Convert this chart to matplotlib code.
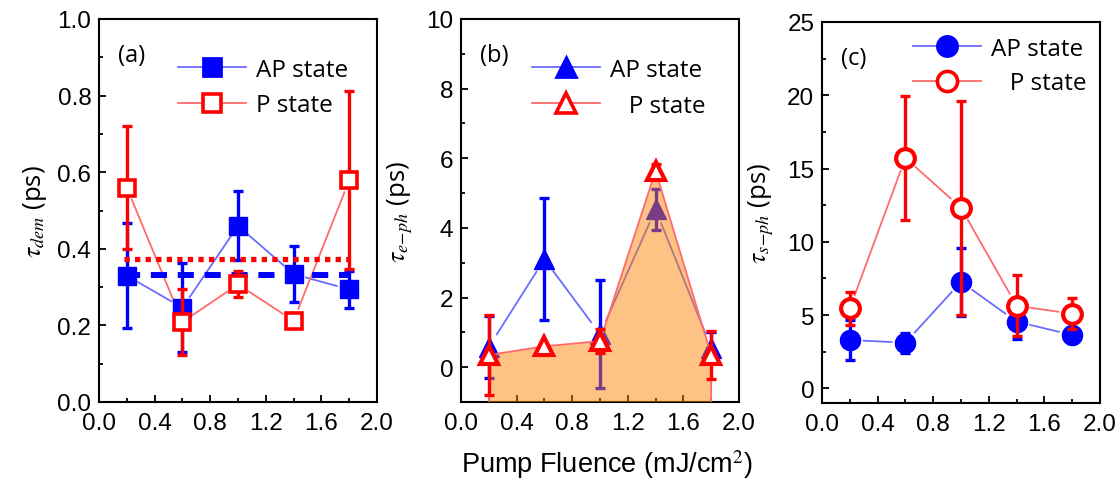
import numpy as np
import matplotlib
matplotlib.use("Agg")
import matplotlib.pyplot as plt
from matplotlib.lines import Line2D
from matplotlib.ticker import MultipleLocator, FormatStrFormatter

# ---------------- data ----------------
fluence = [0.2, 0.6, 1.0, 1.4, 1.8]

# (a) demagnetization time
dem_ap = [0.33, 0.246, 0.46, 0.334, 0.294]
dem_ap_err = [0.137, 0.116, 0.09, 0.074, 0.048]
dem_p = [0.56, 0.209, 0.307, 0.212, 0.579]
dem_p_err = [0.16, 0.086, 0.034, 0.02, 0.232]

# (b) electron-phonon time
eph_ap = [0.58, 3.1, 0.95, 4.53, 0.56]
eph_ap_err = [0.88, 1.75, 1.55, 0.58, 0.45]
eph_p = [0.35, 0.6, 0.75, 5.64, 0.35]
eph_p_err = [1.16, 0.0, 0.35, 0.2, 0.7]

# (c) spin-phonon time
sph_ap = [3.3, 3.11, 7.27, 4.55, 3.64]
sph_ap_err = [1.34, 0.7, 2.3, 1.2, 0.55]
sph_p = [5.45, 15.73, 12.32, 5.64, 5.09]
sph_p_err = [1.1, 4.25, 7.3, 2.07, 1.06]

labels = ["AP state", "P state"]

BLUE = "#0000FF"
RED = "#FF0000"
LBLUE = "#6B6BFF"
LRED = "#FF6B6B"
ORANGE = "#FF8000"

TICK_FONT = "Liberation Sans"
TEXT_FONT = "Open Sans"

plt.rcParams["mathtext.fontset"] = "stix"
plt.rcParams["axes.linewidth"] = 1.5

fig = plt.figure(figsize=(11.19, 4.81), dpi=100)

W = 278 / 1119
axes_rect = [
    (99 / 1119, (481 - 403) / 481, W, 383 / 481),
    (461 / 1119, (481 - 403) / 481, W, 383 / 481),
    (822 / 1119, (481 - 404) / 481, W, 381 / 481),
]
axs = [fig.add_axes(r) for r in axes_rect]


def style_axis(ax, ylim, ymajor, yminor, yfmt):
    ax.set_xlim(0, 2.0)
    ax.set_ylim(*ylim)
    ax.xaxis.set_major_locator(MultipleLocator(0.4))
    ax.xaxis.set_minor_locator(MultipleLocator(0.2))
    ax.xaxis.set_major_formatter(FormatStrFormatter("%.1f"))
    ax.yaxis.set_major_locator(MultipleLocator(ymajor))
    ax.yaxis.set_minor_locator(MultipleLocator(yminor))
    ax.yaxis.set_major_formatter(FormatStrFormatter(yfmt))
    ax.tick_params(which="both", direction="in", width=1.3, top=False, right=False)
    ax.tick_params(which="major", length=5, labelsize=17.5)
    ax.tick_params(axis="y", which="major", pad=5.5)
    ax.tick_params(axis="x", which="major", pad=7)
    ax.tick_params(which="minor", length=3)
    for lab in ax.get_xticklabels() + ax.get_yticklabels():
        lab.set_fontfamily(TICK_FONT)


def gap_line(ax, xs, ys, color, gap, lw=1.3, zorder=2):
    """Connect points with straight segments that stop short of the markers."""
    pts = ax.transData.transform(np.column_stack([xs, ys]))
    inv = ax.transData.inverted()
    for p0, p1 in zip(pts[:-1], pts[1:]):
        d = p1 - p0
        L = np.hypot(*d)
        if L <= 2 * gap:
            continue
        u = d / L
        a = inv.transform(p0 + u * gap)
        b = inv.transform(p1 - u * gap)
        ax.plot([a[0], b[0]], [a[1], b[1]], color=color, lw=lw,
                solid_capstyle="butt", zorder=zorder)


def errs(ax, xs, ys, err, color, zorder):
    ax.errorbar(xs, ys, yerr=err, fmt="none", ecolor=color, elinewidth=2.4,
                capsize=3.5, capthick=2.4, zorder=zorder)


def legend(ax, marker, ms, anchor, p_label, spacing):
    h_ap = Line2D([], [], color=LBLUE, lw=1.3, marker=marker, ms=ms,
                  mfc=BLUE, mec=BLUE, mew=2)
    h_p = Line2D([], [], color=LRED, lw=1.3, marker=marker, ms=ms,
                 mfc="white", mec=RED, mew=2.6)
    ax.legend([h_ap, h_p], [labels[0], p_label], loc="upper left",
              bbox_to_anchor=anchor, frameon=False, borderpad=0,
              borderaxespad=0, handlelength=2.8, handletextpad=0.4,
              labelspacing=spacing, prop={"family": TEXT_FONT, "size": 17.5})


def panel_tag(ax, s):
    ax.text(0.07, 0.905, s, transform=ax.transAxes, fontsize=17,
            family=TEXT_FONT, va="center", ha="left")


def set_ylab(ax, s, pad):
    ax.set_ylabel(s, family=TEXT_FONT, fontsize=18.5, labelpad=pad)


# ---------------- (a) ----------------
ax = axs[0]
style_axis(ax, (0, 1.0), 0.2, 0.1, "%.1f")
gap_line(ax, fluence, dem_ap, LBLUE, 12)
gap_line(ax, fluence, dem_p, LRED, 12)
errs(ax, fluence, dem_ap, dem_ap_err, BLUE, 3)
ax.plot(fluence, dem_ap, ls="none", marker="s", ms=12.5, mfc=BLUE, mec=BLUE, zorder=4)
ax.plot([0.18, 1.8], [np.mean(dem_ap)] * 2, color=BLUE, lw=4.3,
        dashes=(2.7, 1.8), dash_capstyle="butt", zorder=5)
ax.plot([0.18, 1.8], [np.mean(dem_p)] * 2, color=RED, lw=3.8,
        dashes=(1, 1), dash_capstyle="butt", zorder=5)
errs(ax, fluence, dem_p, dem_p_err, RED, 6)
ax.plot(fluence, dem_p, ls="none", marker="s", ms=11.5, mfc="white", mec=RED,
        mew=2.6, zorder=7)
set_ylab(ax, r"$\tau_{dem}$ (ps)", 6)
legend(ax, "s", 12.5, (0.284, 0.899), labels[1], 0.48)
panel_tag(ax, "(a)")

# ---------------- (b) ----------------
ax = axs[1]
style_axis(ax, (-1, 10), 2, 1, "%d")
gap_line(ax, fluence, eph_ap, LBLUE, 14)
errs(ax, fluence, eph_ap, eph_ap_err, BLUE, 3)
ax.plot(fluence, eph_ap, ls="none", marker="^", ms=15, mfc=BLUE, mec=BLUE, zorder=4)
ax.fill_between(fluence, eph_p, -3, facecolor=ORANGE, alpha=0.48, lw=0, zorder=5)
ax.fill_between(fluence, eph_p, -3, facecolor="none", edgecolor=LRED, lw=1.3, zorder=5)
errs(ax, fluence, eph_p, eph_p_err, RED, 6)
ax.plot(fluence, eph_p, ls="none", marker="^", ms=13.5, mfc="white", mec=RED,
        mew=3, zorder=7)
set_ylab(ax, r"$\tau_{e\!-\!ph}$ (ps)", 8)
legend(ax, "^", 15, (0.255, 0.899), "   P state", 0.5)
panel_tag(ax, "(b)")

# ---------------- (c) ----------------
ax = axs[2]
style_axis(ax, (-1, 25), 5, 2.5, "%d")
gap_line(ax, fluence, sph_ap, LBLUE, 13)
gap_line(ax, fluence, sph_p, LRED, 13)
errs(ax, fluence, sph_ap, sph_ap_err, BLUE, 3)
ax.plot(fluence, sph_ap, ls="none", marker="o", ms=14.5, mfc=BLUE, mec=BLUE, zorder=4)
errs(ax, fluence, sph_p, sph_p_err, RED, 6)
ax.plot(fluence, sph_p, ls="none", marker="o", ms=13.5, mfc="white", mec=RED,
        mew=3, zorder=7)
set_ylab(ax, r"$\tau_{s\!-\!ph}$ (ps)", 8)
legend(ax, "o", 14.5, (0.327, 0.961), "   P state", 0.43)
panel_tag(ax, "(c)")

fig.text(607 / 1119, (481 - 465) / 481, "Pump Fluence (mJ/cm$^2$)",
         family=TICK_FONT, fontsize=19.5, ha="center", va="center")

fig.savefig("out.png", dpi=100)
